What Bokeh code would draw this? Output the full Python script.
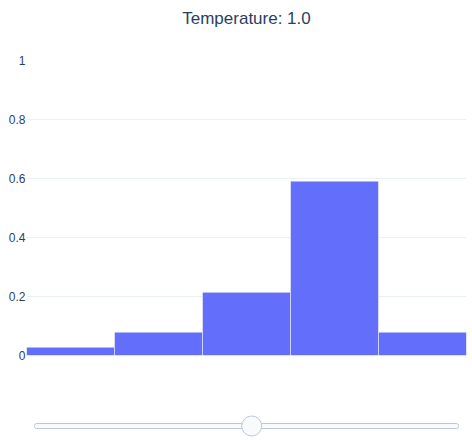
from bokeh.plotting import figure
from bokeh.models import Range1d, FactorRange, FixedTicker, Span, ColumnDataSource, Title
from bokeh.layouts import column
from bokeh.embed import file_html
from bokeh.resources import INLINE

# ---- data ----
categories = ["0", "1", "2", "3", "4"]
probabilities = [0.028, 0.079, 0.214, 0.591, 0.079]
y_ticks = [0, 0.2, 0.4, 0.6, 0.8, 1]
y_tick_labels = ["0", "0.2", "0.4", "0.6", "0.8", "1"]
temperature = 1.0
slider_min = 0.0
slider_max = 1.95

FONT = "Liberation Sans"
TEXT = "#2a3f5f"
GRID = "#ebf0f8"

src = ColumnDataSource(dict(cat=categories, p=probabilities))

p = figure(width=472, height=370, x_range=FactorRange(*categories, range_padding=0),
           y_range=Range1d(0, 1), output_backend="svg", toolbar_location=None,
           min_border_left=26, min_border_right=6, min_border_top=60, min_border_bottom=15,
           title=None)

# empty spacer between the frame and the title, then the title itself
spacer = Title(text=" ", text_font_size="1px", standoff=25)
p.add_layout(spacer, "above")
title = Title(text=f"Temperature: {temperature}", align="center", text_font=FONT,
              text_font_size="17px", text_font_style="normal", text_color=TEXT, standoff=10)
p.add_layout(title, "above")

p.outline_line_color = None
p.background_fill_color = "white"
p.border_fill_color = "white"

p.xaxis.visible = False
p.xgrid.visible = False
p.yaxis.ticker = FixedTicker(ticks=y_ticks)
p.yaxis.major_label_overrides = {t: l for t, l in zip(y_ticks, y_tick_labels)}
p.yaxis.axis_line_color = None
p.yaxis.major_tick_line_color = None
p.yaxis.minor_tick_line_color = None
p.yaxis.major_tick_out = 0
p.yaxis.major_tick_in = 0
p.yaxis.major_label_standoff = 1
p.yaxis.major_label_text_font = FONT
p.yaxis.major_label_text_font_size = "12px"
p.yaxis.major_label_text_color = TEXT
p.ygrid.ticker = FixedTicker(ticks=y_ticks[1:-1])
p.ygrid.grid_line_color = GRID
p.ygrid.grid_line_width = 1

p.add_layout(Span(location=0, dimension="width", line_color=GRID, line_width=2, level="underlay"))

p.vbar(x="cat", top="p", width=1.0, source=src, fill_color="#636efa",
       line_color="white", line_width=0.5)

# ---- slider (frame aligned with the chart frame: 440 px wide) ----
s = figure(width=472, height=70, x_range=Range1d(0, 440), y_range=Range1d(0, 70),
           output_backend="svg", toolbar_location=None,
           min_border_left=26, min_border_right=6, min_border_top=0, min_border_bottom=0)
s.axis.visible = False
s.grid.visible = False
s.outline_line_color = None
s.border_fill_color = "white"
s.background_fill_color = "white"

rail_left, rail_right, rail_y, inset = 8, 432, 14.5, 10
s.quad(left=[rail_left], right=[rail_right], bottom=[rail_y - 2.5], top=[rail_y + 2.5],
       fill_color="#f8fafc", line_color="#bec8d9", line_width=1, border_radius=2)
frac = (temperature - slider_min) / (slider_max - slider_min)
hx = rail_left + inset + frac * (rail_right - rail_left - 2 * inset)
s.scatter(x=[hx], y=[rail_y], size=20, fill_color="#f8fafc", line_color="#bec8d9", line_width=1)

layout = column(p, s, spacing=0)
open("out.html", "w").write(file_html(layout, INLINE))
